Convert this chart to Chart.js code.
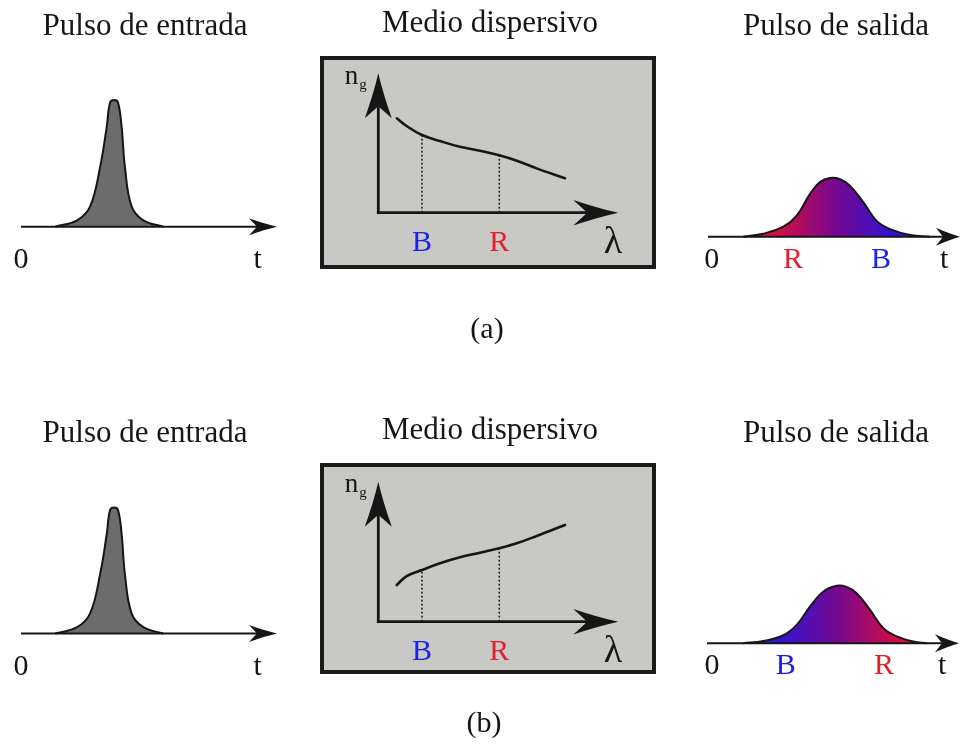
<!DOCTYPE html>
<html>
<head>
<meta charset="utf-8">
<title>Dispersión de un pulso</title>
<script src="https://cdn.jsdelivr.net/npm/chart.js@4/dist/chart.umd.min.js"></script>
<style>
  html, body { margin: 0; padding: 0; background: #fff; }
  #page { position: relative; width: 961px; height: 751px; overflow: hidden; background: #fff; }
  #page canvas { position: absolute; }
  .medium { position: absolute; box-sizing: border-box; border: 4px solid #1b1b1b; background: #c8c8c4; }
</style>
</head>
<body>
<div id="page">
  <div class="medium" style="left:320px; top:56px; width:336px; height:213px;"></div>
  <div class="medium" style="left:320px; top:463px; width:336px; height:211px;"></div>
  <canvas id="inA"></canvas>
  <canvas id="midA"></canvas>
  <canvas id="outA"></canvas>
  <canvas id="inB"></canvas>
  <canvas id="midB"></canvas>
  <canvas id="outB"></canvas>
</div>
<script>
// ---- data ----------------------------------------------------------------
// input pulse: time (arb. units) and normalised amplitude
const inputT   = [1.33, 2.19, 2.70, 3.09, 3.35, 3.48, 3.64, 3.79, 3.93, 4.06, 4.32, 4.78, 5.56];
const inputAmp = [0.00, 0.05, 0.16, 0.47, 0.79, 0.98, 1.00, 0.98, 0.79, 0.47, 0.16, 0.05, 0.00];

// group index n_g versus wavelength inside the medium
const lambdaPts = [0.77, 1.18, 1.82, 2.57, 3.40, 4.24, 5.04, 5.77, 6.60, 7.78];
const ngCaseA   = [6.77, 6.22, 5.57, 5.14, 4.73, 4.45, 4.12, 3.73, 3.18, 2.47];
const ngCaseB   = [2.62, 3.26, 3.69, 4.17, 4.60, 4.93, 5.24, 5.60, 6.12, 6.91];
const markLambda = [1.82, 5.04];
const markNames  = ['B', 'R'];

// output (broadened) pulses
const outTA   = [1.40, 2.19, 2.99, 3.52, 4.05, 4.44, 4.84, 5.24, 5.63, 6.16, 6.69, 7.22, 8.02, 8.81];
const outAmpA = [0.00, 0.05, 0.17, 0.36, 0.73, 0.93, 1.00, 0.98, 0.87, 0.59, 0.27, 0.13, 0.03, 0.00];
const outTB   = [1.44, 2.23, 3.03, 3.56, 4.09, 4.62, 5.15, 5.54, 5.94, 6.47, 7.00, 7.53, 8.19, 8.72];
const outAmpB = [0.00, 0.04, 0.14, 0.32, 0.64, 0.90, 1.00, 0.98, 0.87, 0.58, 0.26, 0.12, 0.03, 0.00];

// axis labels
const inTickLabels   = ['0', 't'];
const inTickPos      = [0.0, 9.24];
const outTickLabelsA = ['0', 'R', 'B', 't'];
const outTickPosA    = [0.15, 3.37, 6.87, 9.37];
const outTickLabelsB = ['0', 'B', 'R', 't'];
const outTickPosB    = [0.20, 3.13, 7.02, 9.33];
const lambdaTickPos  = 9.78;

const titles = ['Pulso de entrada', 'Medio dispersivo', 'Pulso de salida'];
const caseNames = ['(a)', '(b)'];

// ---- styling ---------------------------------------------------------------
const INK = '#161616';
const BLUE = '#1e22e6';
const RED = '#e41e2a';
const SERIF = '"Liberation Serif", "Times New Roman", serif';

// ---- helpers ---------------------------------------------------------------
// scale limits so that value a lands on page pixel pa and b on pb
function axisRange(a, pa, b, pb, start, size, inverted) {
  if (!inverted) {
    const k = (pb - pa) / (b - a);
    const min = a - (pa - start) / k;
    return { min, max: min + size / k };
  }
  const k = (pa - pb) / (b - a);
  const max = a + (pa - start) / k;
  return { min: max - size / k, max };
}

function arrow(ctx, x0, y0, x1, y1, len, half, notch, lw) {
  const dx = x1 - x0, dy = y1 - y0, L = Math.hypot(dx, dy);
  const ux = dx / L, uy = dy / L, nx = -uy, ny = ux;
  const bx = x1 - ux * len, by = y1 - uy * len;
  const mx = x1 - ux * notch, my = y1 - uy * notch;
  ctx.save();
  ctx.strokeStyle = INK; ctx.fillStyle = INK; ctx.lineWidth = lw; ctx.lineCap = 'butt';
  ctx.beginPath(); ctx.moveTo(x0, y0); ctx.lineTo(mx, my); ctx.stroke();
  ctx.beginPath();
  ctx.moveTo(x1, y1);
  ctx.quadraticCurveTo(x1 - ux * len * 0.45 + nx * half * 0.35, y1 - uy * len * 0.45 + ny * half * 0.35, bx + nx * half, by + ny * half);
  ctx.lineTo(mx, my);
  ctx.lineTo(bx - nx * half, by - ny * half);
  ctx.quadraticCurveTo(x1 - ux * len * 0.45 - nx * half * 0.35, y1 - uy * len * 0.45 - ny * half * 0.35, x1, y1);
  ctx.closePath(); ctx.fill();
  ctx.restore();
}

function label(ctx, s, x, y, size, color, align) {
  ctx.save();
  ctx.font = size + 'px ' + SERIF;
  ctx.fillStyle = color || INK;
  ctx.textAlign = align || 'center';
  ctx.textBaseline = 'alphabetic';
  ctx.fillText(s, x, y);
  ctx.restore();
}

function pulseGradient(c0, c1, c2, tStart, tEnd) {
  return (context) => {
    const chart = context.chart;
    if (!chart.chartArea || !chart.scales.x) return 'rgba(0,0,0,0)';
    const xs = chart.scales.x;
    const g = chart.ctx.createLinearGradient(xs.getPixelForValue(tStart), 0, xs.getPixelForValue(tEnd), 0);
    g.addColorStop(0, c0); g.addColorStop(0.5, c1); g.addColorStop(1, c2);
    return g;
  };
}

function points(xs, ys) { return xs.map((x, i) => ({ x, y: ys[i] })); }

function makePanel(spec) {
  const cv = document.getElementById(spec.id);
  cv.width = spec.w; cv.height = spec.h;
  cv.style.left = spec.left + 'px'; cv.style.top = spec.top + 'px';
  const xr = axisRange(spec.x[0], spec.x[1], spec.x[2], spec.x[3], spec.left, spec.w, false);
  const yr = axisRange(spec.y[0], spec.y[1], spec.y[2], spec.y[3], spec.top, spec.h, true);
  return new Chart(cv, {
    type: 'line',
    data: { datasets: spec.datasets },
    options: {
      responsive: false, animation: false, events: [],
      devicePixelRatio: 1,
      layout: { padding: 0 },
      plugins: { legend: { display: false }, tooltip: { enabled: false }, title: { display: false } },
      scales: {
        x: { type: 'linear', display: false, bounds: 'data', min: xr.min, max: xr.max },
        y: { type: 'linear', display: false, bounds: 'data', min: yr.min, max: yr.max }
      }
    },
    plugins: [{
      id: 'panelDecor',
      afterDatasetsDraw(chart) {
        spec.decor(chart, chart.ctx, chart.scales.x, chart.scales.y, spec);
      }
    }]
  });
}

// ---- panel builders --------------------------------------------------------
function inputPanel(id, top, base, peak, row) {
  makePanel({
    id, left: 0, top, w: 310, h: 300,
    x: [0, 21, 10, 277], y: [0, base, 1, peak],
    datasets: [{
      data: points(inputT, inputAmp),
      borderColor: INK, borderWidth: 2, backgroundColor: '#6c6c6c',
      fill: 'origin', pointRadius: 0, tension: 0.4
    }],
    decor(chart, ctx, xs, ys) {
      const y0 = ys.getPixelForValue(0);
      arrow(ctx, xs.getPixelForValue(0), y0, xs.getPixelForValue(10), y0, 28, 8.5, 20, 2);
      inTickLabels.forEach((s, i) => label(ctx, s, xs.getPixelForValue(inTickPos[i]), y0 + 41, 30));
      label(ctx, titles[0], 145, (row ? 442 : 35) - top, 31);
    }
  });
}

function mediumPanel(id, top, h, axisY, tipY, ng, row) {
  makePanel({
    id, left: 310, top, w: 360, h,
    x: [0, 378.3, 10, 618.3], y: [0, axisY, 10, tipY],
    datasets: [
      {
        data: points(lambdaPts, ng),
        borderColor: INK, borderWidth: 2.6, borderCapStyle: 'round',
        fill: false, pointRadius: 0, tension: 0.4
      },
      ...markLambda.map(m => ({
        data: [{ x: m, y: 0 }, { x: m, y: ng[lambdaPts.indexOf(m)] }],
        borderColor: '#2a2a2a', borderWidth: 1.6, borderDash: [2, 2],
        fill: false, pointRadius: 0
      }))
    ],
    decor(chart, ctx, xs, ys) {
      const x0 = xs.getPixelForValue(0), y0 = ys.getPixelForValue(0);
      arrow(ctx, x0, y0 + 1.4, x0, ys.getPixelForValue(10), 45, 13.5, 33, 2.8);
      arrow(ctx, x0 - 1.4, y0, xs.getPixelForValue(10), y0, 45, 12.8, 31, 2.8);
      markNames.forEach((s, i) => label(ctx, s, xs.getPixelForValue(markLambda[i]), y0 + 38, 30, s === 'B' ? BLUE : RED));
      label(ctx, 'λ', xs.getPixelForValue(lambdaTickPos), y0 + 40, 38);
      const tipY0 = ys.getPixelForValue(10);
      label(ctx, 'n', x0 - 33.5, tipY0 + 10.5, 27, INK, 'left');
      label(ctx, 'g', x0 - 19, tipY0 + 15.2, 15, INK, 'left');
      label(ctx, titles[1], 490 - 310, (row ? 439 : 32) - top, 31);
      label(ctx, caseNames[row], (row ? 484 : 487) - 310, (row ? 732 : 338) - top, 30);
    }
  });
}

function outputPanel(id, top, zeroX, base, peak, ts, amps, tickLabels, tickPos, grad, row) {
  makePanel({
    id, left: 670, top, w: 291, h: 300,
    x: [0, zeroX, 10, zeroX + 252], y: [0, base, 1, peak],
    datasets: [{
      data: points(ts, amps),
      borderColor: INK, borderWidth: 2, backgroundColor: grad,
      fill: 'origin', pointRadius: 0, tension: 0.4
    }],
    decor(chart, ctx, xs, ys) {
      const y0 = ys.getPixelForValue(0);
      arrow(ctx, xs.getPixelForValue(0), y0, xs.getPixelForValue(10), y0, 24, 9, 17, 2);
      tickLabels.forEach((s, i) => {
        const c = s === 'R' ? RED : s === 'B' ? BLUE : INK;
        label(ctx, s, xs.getPixelForValue(tickPos[i]), y0 + 31, 30, c);
      });
      label(ctx, titles[2], 836 - 670, (row ? 442 : 35) - top, 31);
    }
  });
}

// ---- build ---------------------------------------------------------------
inputPanel('inA', 0, 226.7, 100, 0);
inputPanel('inB', 400, 633.5, 507.5, 1);

mediumPanel('midA', 0, 360, 212.7, 73.3, ngCaseA, 0);
mediumPanel('midB', 400, 351, 621.7, 481.7, ngCaseB, 1);

outputPanel('outA', 0, 708, 236.7, 178, outTA, outAmpA, outTickLabelsA, outTickPosA,
  pulseGradient('#dc0f3c', '#76088e', '#2a16dc', 2.5, 7.6), 0);
outputPanel('outB', 400, 707, 643.3, 585.7, outTB, outAmpB, outTickLabelsB, outTickPosB,
  pulseGradient('#2a16dc', '#76088e', '#dc0f3c', 2.6, 7.8), 1);
</script>
</body>
</html>
